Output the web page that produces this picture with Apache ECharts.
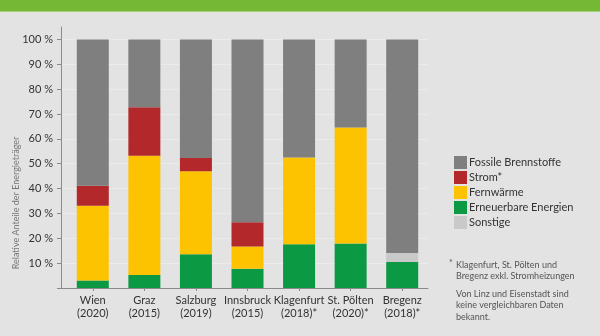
<!DOCTYPE html>
<html>
<head>
<meta charset="utf-8">
<script src="https://cdn.jsdelivr.net/npm/echarts@6/dist/echarts.min.js"></script>
<style>
  html, body { margin: 0; padding: 0; background: #e3e3e3; }
  #chart { width: 600px; height: 336px; }
</style>
</head>
<body>
<div id="chart"></div>
<script>
// Städte und Erhebungsjahr
const categories = [
  'Wien\n(2020)', 'Graz\n(2015)', 'Salzburg\n(2019)', 'Innsbruck\n(2015)',
  'Klagenfurt\n(2018)*', 'St. Pölten\n(2020)*', 'Bregenz\n(2018)*'
];

// Anteile der Energieträger in Prozent
const erneuerbare = [3, 5.2, 13.6, 7.7, 17.6, 17.9, 10.5];
const sonstige    = [0, 0, 0, 0, 0, 0, 3.6];
const fernwaerme  = [30.1, 48, 33.4, 9, 34.9, 46.7, 0];
const strom       = [8, 19.5, 5.3, 9.8, 0, 0, 0];
const fossile     = [58.9, 27.3, 47.7, 73.5, 47.5, 35.4, 85.9];

const yTicks = [0, 10, 20, 30, 40, 50, 60, 70, 80, 90, 100];

const FONT = 'Lato, "Noto Sans", sans-serif';

const chart = echarts.init(document.getElementById('chart'));

function bar(name, data, color) {
  return {
    name: name,
    type: 'bar',
    stack: 'anteile',
    xAxisIndex: 1,
    yAxisIndex: 1,
    barWidth: 32,
    data: data,
    itemStyle: { color: color },
    emphasis: { disabled: true }
  };
}

chart.setOption({
  backgroundColor: '#e3e3e3',
  animation: false,
  textStyle: { fontFamily: FONT },
  grid: [
    { left: 61, right: 172, top: 27, bottom: 48 },
    { left: 67, right: 172, top: 27, bottom: 48 }
  ],
  xAxis: [
    {
      type: 'category', gridIndex: 0, data: [''],
      axisLine: { lineStyle: { color: '#8a8a8a', width: 1 } },
      axisTick: { show: false }, axisLabel: { show: false }, splitLine: { show: false }
    },
    {
      type: 'category', gridIndex: 1, data: categories,
      axisLine: { show: false },
      axisTick: { show: true, alignWithLabel: true, length: 3, lineStyle: { color: '#8a8a8a' } },
      axisLabel: { color: '#333', fontSize: 11, lineHeight: 13, margin: 6, interval: 0, fontFamily: FONT },
      splitLine: { show: false }
    }
  ],
  yAxis: [
    {
      type: 'value', gridIndex: 0, min: 0, max: 105,
      axisLine: { show: true, lineStyle: { color: '#8a8a8a', width: 1 } },
      axisTick: { show: true, length: 4, customValues: yTicks, lineStyle: { color: '#8a8a8a' } },
      axisLabel: {
        color: '#333', fontSize: 11, margin: 8, fontFamily: FONT,
        customValues: yTicks.filter(v => v > 0),
        formatter: v => v + ' %'
      },
      splitLine: { show: true, lineStyle: { color: '#ebebeb', width: 1 } }
    },
    {
      type: 'value', gridIndex: 1, min: 0, max: 105, show: false,
      splitLine: { show: false }
    }
  ],
  legend: {
    orient: 'vertical',
    left: 449,
    top: 151,
    itemWidth: 13,
    itemHeight: 13,
    itemGap: 2,
    icon: 'rect',
    textStyle: { color: '#333', fontSize: 11, fontFamily: FONT, padding: [0, 0, 0, -3] },
    data: ['Fossile Brennstoffe', 'Strom*', 'Fernwärme', 'Erneuerbare Energien', 'Sonstige']
  },
  series: [
    bar('Erneuerbare Energien', erneuerbare, '#0b9a43'),
    bar('Sonstige', sonstige, '#c9c9c9'),
    bar('Fernwärme', fernwaerme, '#fdc300'),
    bar('Strom*', strom, '#b3292b'),
    bar('Fossile Brennstoffe', fossile, '#7f7f7f')
  ],
  graphic: [
    { type: 'rect', shape: { x: 0, y: 0, width: 600, height: 11 }, style: { fill: '#74b835' } },
    { type: 'rect', shape: { x: 0, y: 11, width: 600, height: 1 }, style: { fill: '#a6cf7d' } },
    {
      type: 'text', x: 16, y: 203, rotation: Math.PI / 2,
      style: {
        text: 'Relative Anteile der Energieträger', fill: '#777',
        fontSize: 9, fontFamily: FONT, align: 'center', verticalAlign: 'middle'
      }
    },
    {
      type: 'text', x: 449, y: 259,
      style: { text: '*', fill: '#555', fontSize: 9, fontFamily: FONT }
    },
    {
      type: 'text', x: 456, y: 259,
      style: {
        text: 'Klagenfurt, St. Pölten und\nBregenz exkl. Stromheizungen',
        fill: '#555', fontSize: 9, lineHeight: 11.5, fontFamily: FONT
      }
    },
    {
      type: 'text', x: 456, y: 288,
      style: {
        text: 'Von Linz und Eisenstadt sind\nkeine vergleichbaren Daten\nbekannt.',
        fill: '#555', fontSize: 9, lineHeight: 11.5, fontFamily: FONT
      }
    }
  ]
});
</script>
</body>
</html>
